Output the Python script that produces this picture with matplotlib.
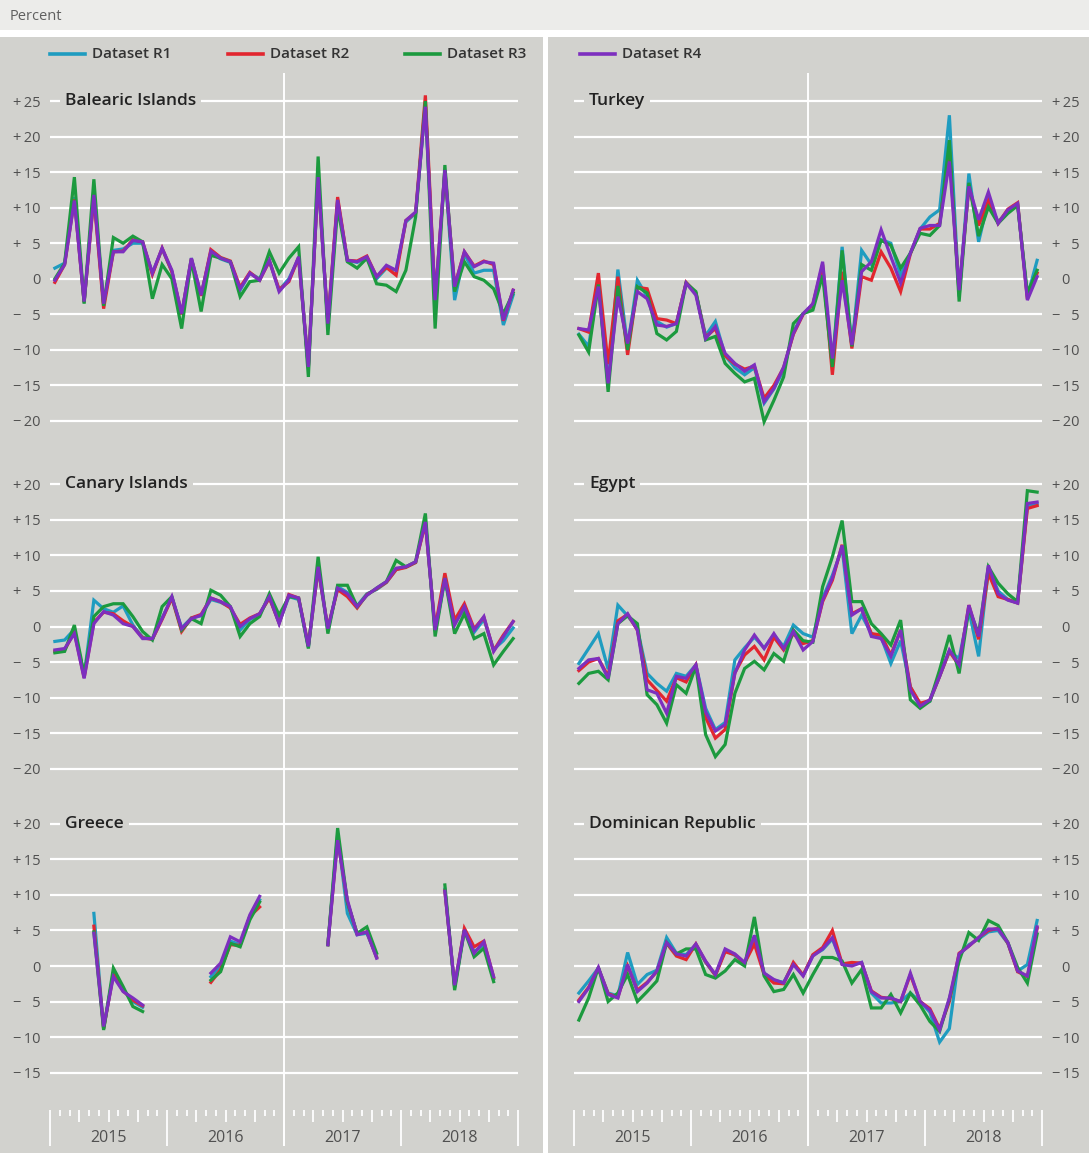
import numpy as np
import matplotlib
matplotlib.use('Agg')
import matplotlib.pyplot as plt
from matplotlib.patches import Rectangle
from matplotlib.lines import Line2D
from matplotlib.transforms import blended_transform_factory

plt.rcParams['font.family'] = ['Open Sans', 'DejaVu Sans']

n = np.nan

# month index 0..47 = Jan 2015 .. Dec 2018
years = ['2015', '2016', '2017', '2018']
series_names = ['Dataset R1', 'Dataset R2', 'Dataset R3', 'Dataset R4']
colors = ['#1f9cc0', '#e2262f', '#1c9a3e', '#7d2fbf']

balearic_r1 = [1.5, 2.2, 11.5, -3.3, 12.0, -3.5, 4.0, 4.2, 5.0, 5.0, 0.8, 4.2, 1.0, -5.0, 2.9, -2.3, 3.7, 2.8, 2.3, -1.6, 0.8, 0.0, 2.5, -1.6, 0.0, 2.9, -12.5, 14.0, -6.5, 11.0, 2.6, 2.3, 3.0, 0.0, 1.5, 1.2, 8.0, 9.2, 24.5, -3.2, 15.0, -3.0, 3.5, 0.8, 1.2, 1.2, -6.5, -2.3]
balearic_r2 = [-0.5, 2.0, 11.2, -3.3, 11.5, -4.2, 3.8, 3.9, 5.5, 5.2, 0.6, 4.3, 1.0, -5.0, 2.8, -2.4, 4.1, 3.0, 2.5, -1.2, 0.9, -0.2, 2.5, -1.5, -0.4, 3.0, -12.4, 14.2, -6.2, 11.5, 2.6, 2.5, 3.2, 0.3, 1.6, 0.5, 8.2, 9.3, 25.8, -3.0, 15.2, -1.0, 3.8, 1.8, 2.5, 2.0, -5.9, -1.6]
balearic_r3 = [0.0, 2.2, 14.3, -3.5, 14.0, -3.8, 5.8, 5.0, 6.0, 5.2, -2.8, 2.0, 0.0, -7.0, 2.6, -4.6, 3.3, 2.9, 2.4, -2.5, -0.4, -0.2, 3.8, 0.8, 2.9, 4.5, -13.8, 17.2, -7.9, 10.0, 2.4, 1.5, 2.9, -0.7, -0.9, -1.8, 1.2, 8.7, 25.0, -7.0, 16.0, -1.8, 2.4, 0.3, -0.2, -1.4, -4.9, -2.0]
balearic_r4 = [-0.2, 2.0, 11.0, -3.2, 11.8, -3.5, 3.8, 3.8, 5.4, 5.2, 0.8, 4.3, 1.2, -4.9, 2.9, -2.3, 3.9, 2.9, 2.4, -1.4, 0.8, -0.2, 2.6, -1.8, -0.2, 3.1, -12.4, 14.3, -6.3, 11.1, 2.6, 2.4, 3.1, 0.3, 1.9, 1.2, 8.2, 9.4, 24.2, -3.0, 15.3, -1.1, 3.8, 1.7, 2.4, 2.2, -5.8, -1.6]

turkey_r1 = [-7.8, -9.5, -0.5, -15.0, 1.3, -9.5, -0.2, -2.5, -6.0, -6.8, -6.3, -0.6, -2.0, -8.0, -6.0, -10.8, -12.5, -13.5, -12.5, -17.5, -15.5, -12.8, -7.5, -4.9, -3.8, 1.5, -12.0, 4.5, -9.5, 4.0, 2.0, 5.5, 5.0, 0.5, 3.6, 7.0, 8.7, 9.7, 23.0, -2.5, 14.8, 5.2, 11.0, 8.0, 9.5, 10.5, -2.5, 2.6]
turkey_r2 = [-7.0, -7.5, 0.8, -12.0, 0.3, -10.7, -1.2, -1.4, -5.6, -5.8, -6.3, -0.5, -2.0, -8.2, -7.0, -10.8, -12.0, -12.7, -12.3, -16.8, -15.0, -12.5, -7.8, -5.0, -3.6, 2.0, -13.5, 1.0, -9.8, 0.3, -0.2, 3.8, 1.5, -1.8, 3.5, 7.0, 7.0, 7.8, 18.0, -2.0, 13.0, 7.5, 11.0, 7.8, 9.8, 10.7, -2.8, 0.8]
turkey_r3 = [-7.9, -10.3, -0.8, -15.9, -1.0, -10.0, -1.1, -2.0, -7.7, -8.6, -7.4, -0.6, -1.8, -8.6, -8.1, -11.9, -13.3, -14.5, -14.0, -20.1, -17.1, -13.8, -6.3, -4.9, -4.4, 0.5, -12.4, 4.0, -9.5, 2.0, 1.2, 5.4, 4.7, 1.5, 3.6, 6.4, 6.1, 7.5, 19.5, -3.2, 13.5, 6.0, 10.1, 7.8, 9.2, 10.3, -2.0, 1.2]
turkey_r4 = [-7.0, -7.2, -1.1, -14.7, -2.5, -9.1, -1.8, -2.8, -6.5, -6.7, -6.3, -0.6, -2.3, -8.4, -6.7, -10.5, -11.9, -13.0, -12.1, -17.3, -15.4, -12.4, -7.7, -4.9, -3.5, 2.4, -11.2, -0.2, -9.3, 1.0, 2.4, 6.9, 3.1, -0.6, 3.6, 7.1, 7.5, 7.5, 16.5, -1.6, 13.0, 8.3, 12.2, 7.8, 9.7, 10.6, -3.0, 0.3]

canary_r1 = [-2.1, -1.9, -0.4, -7.0, 3.7, 2.5, 2.0, 2.9, 0.2, -1.5, -1.8, 1.2, 4.0, -0.2, 1.2, 1.5, 3.8, 3.4, 2.7, -0.5, 1.0, 1.7, 4.1, 0.5, 4.2, 3.8, -2.9, 8.2, -0.5, 5.6, 4.8, 2.9, 4.6, 5.2, 6.2, 8.0, 8.4, 9.0, 14.8, -0.6, 6.5, 0.5, 2.5, -0.8, 1.0, -3.2, -2.0, -0.2]
canary_r2 = [-3.5, -3.3, -0.8, -7.2, 0.6, 2.0, 1.8, 0.8, 0.0, -1.6, -1.8, 1.0, 4.0, -0.7, 1.2, 1.7, 4.0, 3.5, 2.6, 0.3, 1.2, 1.8, 4.0, 0.5, 4.5, 4.0, -2.7, 8.2, -0.2, 5.2, 4.2, 2.6, 4.5, 5.3, 6.2, 8.0, 8.3, 9.0, 14.5, -0.2, 7.5, 0.9, 3.2, -0.3, 1.3, -3.4, -1.2, 0.7]
canary_r3 = [-3.7, -3.5, 0.2, -6.7, 1.4, 2.8, 3.2, 3.2, 1.4, -0.7, -1.9, 2.8, 4.2, -0.5, 1.1, 0.4, 5.1, 4.4, 2.8, -1.4, 0.4, 1.4, 4.6, 1.6, 4.2, 4.0, -3.1, 9.8, -1.0, 5.8, 5.8, 2.8, 4.4, 5.4, 6.3, 9.3, 8.4, 9.1, 15.9, -1.4, 6.8, -1.0, 1.8, -1.7, -1.0, -5.4, -3.5, -1.7]
canary_r4 = [-3.3, -3.1, -1.0, -7.3, 0.4, 2.1, 1.6, 0.4, 0.0, -1.7, -1.7, 1.1, 4.2, -0.3, 1.1, 1.6, 4.0, 3.5, 2.8, 0.0, 1.1, 1.8, 4.2, 0.4, 4.4, 4.0, -2.8, 8.4, -0.3, 5.4, 4.6, 2.8, 4.4, 5.4, 6.3, 8.2, 8.4, 9.1, 14.7, -0.5, 6.8, 0.2, 2.8, -0.5, 1.4, -3.5, -1.4, 0.7]

egypt_r1 = [-5.2, -3.1, -1.0, -6.0, 3.0, 1.5, -0.3, -6.6, -8.0, -9.1, -6.6, -7.0, -5.4, -11.5, -14.5, -13.5, -4.7, -3.0, -1.5, -3.0, -1.2, -2.8, 0.2, -1.0, -1.5, 4.0, 7.2, 11.0, -1.0, 1.6, -1.0, -1.5, -5.2, -2.0, -8.5, -11.0, -10.5, -7.0, -3.5, -4.5, 2.3, -4.2, 8.2, 5.0, 3.8, 3.3, 17.0, 17.2]
egypt_r2 = [-6.2, -5.0, -4.5, -7.0, 0.8, 1.7, -0.5, -7.5, -9.0, -10.5, -7.2, -7.8, -5.4, -12.8, -15.7, -14.5, -6.5, -4.0, -2.8, -4.7, -1.5, -3.3, -1.0, -2.4, -2.0, 3.5, 6.5, 11.5, 1.8, 2.5, -1.0, -1.2, -4.0, -0.5, -8.5, -10.8, -10.4, -7.0, -3.5, -5.5, 3.0, -1.8, 7.5, 4.2, 3.8, 3.3, 16.6, 17.0]
egypt_r3 = [-8.0, -6.6, -6.3, -7.5, 0.4, 1.5, 0.4, -9.6, -11.0, -13.6, -8.2, -9.4, -5.6, -15.2, -18.3, -16.6, -9.4, -5.9, -4.9, -6.1, -3.8, -4.9, -0.5, -2.0, -2.2, 5.6, 9.8, 14.9, 3.5, 3.5, 0.4, -1.0, -2.6, 0.9, -10.3, -11.5, -10.5, -6.1, -1.2, -6.6, 2.5, -1.0, 8.4, 6.1, 4.6, 3.5, 19.1, 18.9]
egypt_r4 = [-5.9, -4.7, -4.5, -7.3, 0.4, 1.8, -0.5, -8.9, -9.4, -12.2, -7.0, -7.3, -5.4, -12.0, -14.7, -13.8, -6.6, -3.3, -1.2, -3.1, -1.0, -3.1, -0.7, -3.3, -2.1, 3.7, 6.8, 11.4, 1.6, 2.5, -1.4, -1.7, -4.2, -0.5, -8.9, -11.2, -10.3, -7.0, -3.3, -5.4, 3.0, -1.4, 8.6, 4.6, 3.7, 3.3, 17.3, 17.5]

greece_r1 = [n, n, n, n, 7.4, -8.8, -1.0, -3.3, -5.0, -5.8, n, n, n, n, n, n, -1.5, 0.0, 3.5, 3.0, 7.0, 9.3, n, n, n, n, n, n, 3.0, 18.5, 7.4, 4.4, 4.6, 1.3, n, n, n, n, n, n, 10.8, -3.0, 5.0, 2.0, 3.0, -1.8, n, n]
greece_r2 = [n, n, n, n, 5.6, -8.8, -1.2, -3.5, -4.8, -5.6, n, n, n, n, n, n, -2.3, -0.5, 3.0, 2.9, 7.0, 8.3, n, n, n, n, n, n, 3.0, 18.0, 9.0, 4.5, 4.8, 1.2, n, n, n, n, n, n, 10.6, -2.9, 5.3, 2.7, 3.5, -1.6, n, n]
greece_r3 = [n, n, n, n, 4.8, -9.0, -0.3, -2.9, -5.7, -6.4, n, n, n, n, n, n, -2.0, -0.8, 3.2, 2.7, 6.5, 9.0, n, n, n, n, n, n, 3.0, 19.4, 9.0, 4.6, 5.5, 1.8, n, n, n, n, n, n, 11.4, -3.4, 5.0, 1.3, 2.5, -2.2, n, n]
greece_r4 = [n, n, n, n, 4.6, -8.5, -1.5, -3.6, -4.5, -5.5, n, n, n, n, n, n, -1.0, 0.4, 4.1, 3.4, 7.2, 9.8, n, n, n, n, n, n, 3.0, 17.7, 9.3, 4.4, 4.8, 1.1, n, n, n, n, n, n, 10.5, -2.7, 5.1, 1.8, 3.4, -1.5, n, n]

dominican_r1 = [-3.8, -2.1, -0.3, -3.8, -4.2, 1.9, -2.6, -1.2, -0.6, 4.0, 1.8, 1.6, 3.0, 0.5, -1.3, 2.2, 1.5, 0.4, 3.8, -1.0, -2.0, -2.3, 0.3, -1.3, 1.5, 2.3, 3.8, 0.3, 0.2, 0.5, -3.8, -5.2, -5.2, -5.0, -3.8, -5.0, -6.5, -10.7, -8.8, 1.5, 3.0, 3.8, 4.8, 5.0, 3.2, -0.7, 0.2, 6.4]
dominican_r2 = [-4.8, -3.0, -0.3, -3.9, -4.4, 0.0, -3.4, -2.3, -0.8, 3.2, 1.4, 0.9, 3.1, 0.6, -1.3, 2.0, 1.6, 0.4, 3.1, -1.2, -2.4, -2.5, 0.5, -1.3, 1.6, 2.6, 5.0, 0.3, 0.5, 0.4, -3.5, -4.4, -4.6, -5.0, -1.2, -5.0, -6.0, -8.8, -5.0, 1.8, 2.8, 4.0, 5.0, 5.3, 3.2, -0.8, -1.5, 5.3]
dominican_r3 = [-7.6, -4.5, -0.2, -5.0, -3.8, -1.2, -5.0, -3.6, -2.1, 3.3, 1.7, 2.4, 2.4, -1.2, -1.7, -0.7, 0.9, 0.0, 6.9, -1.4, -3.6, -3.3, -1.2, -3.8, -1.2, 1.2, 1.2, 0.7, -2.4, -0.5, -5.9, -5.9, -4.0, -6.6, -3.8, -5.5, -7.8, -9.2, -4.6, 0.7, 4.7, 3.6, 6.4, 5.7, 3.3, -0.2, -2.4, 4.5]
dominican_r4 = [-5.0, -3.1, -0.2, -4.0, -4.5, 0.2, -3.6, -2.4, -0.7, 3.3, 1.7, 1.4, 3.1, 0.7, -1.2, 2.4, 1.7, 0.5, 4.3, -1.0, -1.9, -2.4, 0.2, -1.4, 1.4, 2.4, 4.0, 0.2, 0.0, 0.5, -3.6, -4.5, -4.5, -5.0, -1.0, -5.0, -6.2, -9.0, -4.5, 1.7, 2.8, 4.0, 5.2, 5.2, 3.3, -0.7, -1.4, 5.5]

panels = [
    ('Balearic Islands', [balearic_r1, balearic_r2, balearic_r3, balearic_r4]),
    ('Turkey', [turkey_r1, turkey_r2, turkey_r3, turkey_r4]),
    ('Canary Islands', [canary_r1, canary_r2, canary_r3, canary_r4]),
    ('Egypt', [egypt_r1, egypt_r2, egypt_r3, egypt_r4]),
    ('Greece', [greece_r1, greece_r2, greece_r3, greece_r4]),
    ('Dominican Republic', [dominican_r1, dominican_r2, dominican_r3, dominican_r4]),
]

# layout in pixels
W, H = 1089, 1153
BG = '#d2d2ce'
TXT = '#505050'
PX_PER_UNIT = 7.11
col_x = [(50, 518), (574, 1042)]
# zero line pixel, axes top, axes bottom, tick values
rows = [
    (278.8, 85, 445, list(range(-20, 30, 5))),
    (626.5, 462, 795, list(range(-20, 25, 5))),
    (966.0, 800, 1100, list(range(-15, 25, 5))),
]


def px_axes(fig, x0, y0, x1, y1):
    return fig.add_axes([x0 / W, 1 - y1 / H, (x1 - x0) / W, (y1 - y0) / H])


def tick_label(v):
    if v == 0:
        return '0'
    sign = '+' if v > 0 else '\u2212'
    num = str(abs(v))
    if len(num) == 1:
        num = '\u2007' + num
    return sign + '\u2009' + num


fig = plt.figure(figsize=(W / 100, H / 100), dpi=100, facecolor='white')

# backgrounds
fig.patches.append(Rectangle((0, 1 - 30 / H), 1, 30 / H, transform=fig.transFigure,
                             facecolor='#ececea', edgecolor='none', zorder=-10))
fig.patches.append(Rectangle((0, 0), 543 / W, 1 - 37 / H, transform=fig.transFigure,
                             facecolor=BG, edgecolor='none', zorder=-10))
fig.patches.append(Rectangle((548 / W, 0), 1 - 548 / W, 1 - 37 / H, transform=fig.transFigure,
                             facecolor=BG, edgecolor='none', zorder=-10))
fig.text(10 / W, 1 - 16 / H, 'Percent', fontsize=10.5, color='#606060', va='center', ha='left')

# legend
legend_x = [50, 228, 405, 580]
for name, c, lx in zip(series_names, colors, legend_x):
    fig.add_artist(Line2D([lx / W, (lx + 35) / W], [1 - 54 / H] * 2,
                          transform=fig.transFigure, color=c, lw=2.6))
    fig.text((lx + 42) / W, 1 - 54 / H, name, fontsize=11, color='#333333',
             va='center', ha='left', weight='semibold')

for ci, (x0, x1) in enumerate(col_x):
    # column axis carrying the vertical marker line
    cax = px_axes(fig, x0, 73, x1, 1146)
    cax.set_xlim(0, 48)
    cax.axvline(24, color='white', lw=1.4)
    cax.axis('off')

    # month ticks and year labels
    tax = px_axes(fig, x0, 1110, x1, 1146)
    tax.set_xlim(0, 48)
    tax.set_ylim(1, 0)
    tax.axis('off')
    bounds = np.arange(49)
    lengths = np.where(bounds % 12 == 0, 1.0, np.where(bounds % 3 == 0, 0.32, 0.17))
    tax.vlines(bounds, 0, lengths, color='white', lw=1.3, clip_on=False)
    for k, yr in enumerate(years):
        tax.text(12 * k + 6, 0.77, yr, ha='center', va='center', fontsize=11.5, color=TXT)

    for ri, (zero, top, bot, ticks) in enumerate(rows):
        title, series = panels[ri * 2 + ci]
        ax = px_axes(fig, x0, top, x1, bot)
        ax.set_facecolor('none')
        ax.set_xlim(0, 48)
        ax.set_ylim((zero - bot) / PX_PER_UNIT, (zero - top) / PX_PER_UNIT)
        x = np.arange(48) + 0.5
        for vals, c in zip(series, colors):
            ax.plot(x, vals, color=c, lw=2.3, solid_joinstyle='miter', zorder=3)
        ax.set_yticks(ticks)
        ax.set_yticklabels([tick_label(t) for t in ticks])
        ax.set_xticks([])
        ax.grid(axis='y', color='white', lw=1.6, zorder=1)
        ax.set_axisbelow(True)
        for s in ax.spines.values():
            s.set_visible(False)
        if ci == 0:
            ax.yaxis.tick_left()
            ax.tick_params(axis='y', length=0, pad=6.5, labelsize=10.5, labelcolor=TXT)
        else:
            ax.yaxis.tick_right()
            ax.tick_params(axis='y', length=0, pad=17, labelsize=10.5, labelcolor=TXT)
            for lbl in ax.get_yticklabels():
                lbl.set_horizontalalignment('center')
        tr = blended_transform_factory(ax.transAxes, ax.transData)
        ax.text(15 / 468, ticks[-1], title, transform=tr, fontsize=12.5, color='#222222',
                va='center', ha='left', weight='semibold', zorder=5,
                bbox=dict(facecolor=BG, edgecolor='none', pad=3.5))

fig.savefig('out.png', dpi=100, facecolor=fig.get_facecolor())
